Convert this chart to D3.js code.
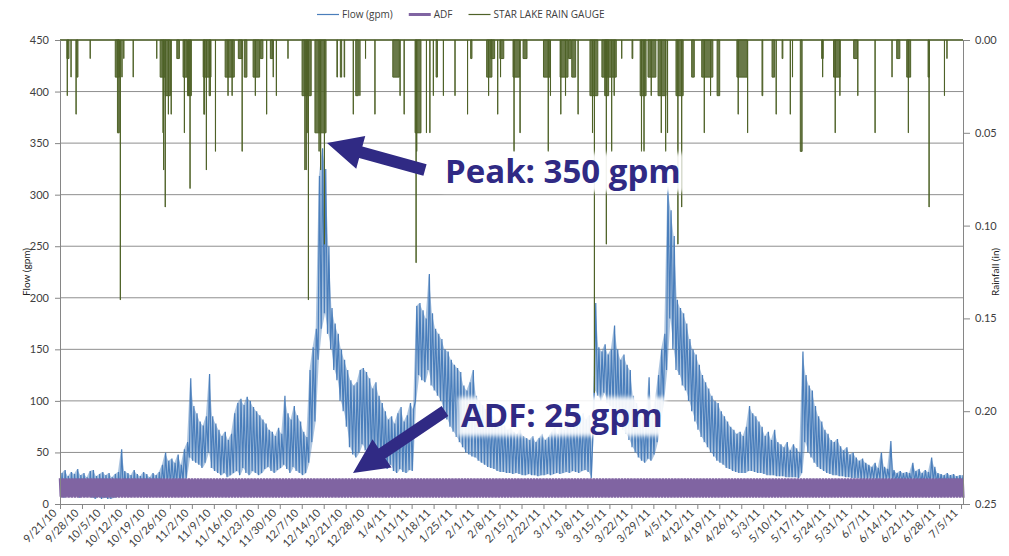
<!DOCTYPE html>
<meta charset="utf-8">
<script src="https://cdn.jsdelivr.net/npm/d3@7"></script>
<style>
  body { margin: 0; background: #fff; }
  text { font-family: Lato, "Open Sans", sans-serif; }
</style>
<body>
<div id="vis"></div>
<script>
// x axis tick labels (weekly)
const dateTicks = ["9/21/10","9/28/10","10/5/10","10/12/10","10/19/10","10/26/10","11/2/10","11/9/10",
  "11/16/10","11/23/10","11/30/10","12/7/10","12/14/10","12/21/10","12/28/10","1/4/11","1/11/11",
  "1/18/11","1/25/11","2/1/11","2/8/11","2/15/11","2/22/11","3/1/11","3/8/11","3/15/11","3/22/11",
  "3/29/11","4/5/11","4/12/11","4/19/11","4/26/11","5/3/11","5/10/11","5/17/11","5/24/11","5/31/11",
  "6/7/11","6/14/11","6/21/11","6/28/11","7/5/11"]
const flowTicks = [0, 50, 100, 150, 200, 250, 300, 350, 400, 450]
const rainTicks = [0, 0.05, 0.10, 0.15, 0.20, 0.25]

// flow (gpm): daily high and daily low, one value per day starting 9/21/10
const flowHi = [
  30, 33, 27, 31, 29, 34, 28, 30, 26, 32,
  33, 27, 29, 31, 28, 30, 26, 29, 31, 53,
  32, 30, 28, 33, 29, 27, 31, 29, 26, 30,
  28, 31, 38, 50, 42, 44, 40, 48, 38, 53,
  60, 122, 95, 88, 80, 76, 85, 126, 85, 78,
  72, 66, 70, 62, 68, 88, 98, 102, 96, 104,
  100, 94, 90, 86, 82, 78, 72, 70, 66, 74,
  68, 105, 88, 82, 95, 86, 80, 70, 65, 130,
  152, 170, 318, 345, 325, 250, 190, 175, 165, 150,
  140, 130, 120, 115, 118, 130, 132, 128, 122, 112,
  118, 105, 98, 90, 82, 85, 78, 88, 94, 80,
  86, 98, 92, 192, 195, 188, 180, 223, 185, 170,
  165, 160, 150, 148, 140, 135, 132, 128, 115, 110,
  118, 130, 105, 100, 96, 92, 88, 85, 82, 80,
  78, 76, 72, 74, 70, 68, 72, 66, 64, 62,
  66, 60, 64, 68, 62, 65, 70, 74, 68, 78,
  72, 82, 76, 80, 85, 78, 88, 82, 86, 60,
  195, 152, 148, 155, 145, 150, 173, 150, 140, 145,
  135, 130, 105, 98, 92, 85, 80, 123, 88, 100,
  125, 150, 165, 308, 285, 260, 198, 190, 185, 175,
  160, 150, 145, 135, 125, 118, 112, 105, 100, 98,
  90, 85, 80, 75, 72, 68, 70, 66, 75, 95,
  88, 85, 80, 75, 66, 70, 62, 72, 60, 58,
  55, 60, 52, 58, 54, 50, 148, 125, 115, 110,
  95, 85, 80, 72, 68, 62, 60, 63, 56, 52,
  55, 48, 50, 45, 42, 44, 40, 38, 36, 40,
  35, 50, 36, 34, 61, 33, 30, 32, 30, 31,
  30, 40, 32, 34, 30, 33, 31, 45, 36, 30,
  29, 28, 30, 28, 29, 27, 28, 28]
const flowLo = [
  8, 6, 9, 7, 10, 8, 6, 9, 7, 8,
  6, 5, 7, 5, 6, 5, 5, 6, 7, 10,
  8, 9, 7, 8, 10, 9, 8, 7, 9, 10,
  11, 12, 15, 18, 16, 18, 17, 20, 18, 22,
  25, 45, 42, 40, 38, 35, 40, 50, 35, 32,
  30, 28, 30, 26, 28, 30, 32, 28, 35, 30,
  28, 32, 30, 28, 30, 34, 36, 32, 30, 33,
  35, 38, 34, 30, 36, 32, 30, 28, 30, 40,
  60, 80, 140, 170, 185, 165, 150, 130, 120, 100,
  90, 75, 55, 48, 45, 50, 58, 52, 48, 42,
  45, 40, 38, 36, 34, 38, 32, 30, 34, 31,
  30, 33, 32, 100, 125, 120, 118, 130, 115, 110,
  105, 100, 90, 82, 75, 70, 65, 60, 55, 50,
  48, 46, 45, 42, 40, 38, 36, 35, 34, 32,
  31, 31, 30, 30, 29, 30, 29, 28, 28, 29,
  28, 28, 27, 28, 28, 29, 28, 29, 30, 29,
  30, 31, 30, 32, 31, 30, 32, 33, 31, 25,
  110, 105, 100, 108, 98, 95, 92, 85, 78, 72,
  68, 62, 55, 50, 45, 42, 40, 44, 42, 48,
  60, 80, 100, 130, 180, 150, 130, 125, 115, 110,
  100, 90, 80, 72, 65, 60, 55, 50, 46, 42,
  40, 38, 35, 34, 32, 31, 30, 30, 30, 32,
  32, 31, 30, 30, 29, 28, 28, 28, 27, 27,
  27, 26, 26, 26, 26, 25, 30, 60, 50, 45,
  40, 36, 34, 32, 30, 29, 28, 28, 27, 27,
  26, 26, 25, 25, 25, 24, 24, 24, 24, 24,
  23, 24, 23, 23, 24, 22, 22, 22, 21, 21,
  21, 21, 21, 20, 20, 20, 20, 20, 20, 20,
  20, 19, 19, 19, 18, 18, 18, 18]

// ADF (gpm): diurnal pattern, 6-hour steps, repeated every day
const adfPattern = [25, 7, 24, 6]

// rain gauge (in): start day offset, depth, duration in hours
const rainDay = [2.2, 2.3, 3.5, 5.1, 5.3, 9.6, 17.6, 18.3, 19.2, 19.7, 20.3, 23.3, 30.8, 31.9, 32.8, 33.0,
  33.5, 33.5, 34.5, 35.4, 37.2, 39.2, 39.6, 40.6, 41.0, 41.4, 45.6, 45.8, 46.6, 47.5, 49.5, 52.6,
  53.5, 54.8, 56.8, 58.0, 58.7, 61.5, 62.2, 63.8, 65.8, 67.0, 67.9, 68.9, 72.6, 77.1, 78.0, 78.4,
  78.6, 79.1, 81.2, 82.5, 83.0, 84.2, 88.2, 89.3, 90.5, 93.4, 94.2, 95.5, 97.3, 100.3, 106.0, 108.3,
  109.6, 113.1, 113.4, 113.6, 116.7, 117.8, 118.9, 119.8, 122.1, 125.8, 129.8, 130.8, 135.9, 136.5,
  137.2, 139.4, 140.1, 140.3, 144.3, 144.6, 146.5, 147.5, 154.0, 155.5, 156.2, 159.3, 159.5, 161.0,
  162.0, 163.0, 165.0, 168.8, 169.6, 170.2, 172.6, 173.5, 174.0, 175.7, 176.5, 178.9, 182.2, 184.8,
  185.2, 186.0, 187.3, 188.3, 190.5, 191.5, 192.9, 193.5, 196.2, 196.8, 198.0, 201.2, 204.4, 205.2,
  207.2, 209.3, 215.6, 216.0, 219.0, 223.6, 226.8, 228.1, 230.0, 232.6, 233.3, 235.8, 242.6, 242.9,
  246.4, 246.9, 248.4, 252.8, 254.1, 259.6, 265.0, 266.5, 269.7, 270.2, 276.5, 276.8, 281.7, 282.5]
const rainIn = [.01, .03, .02, .04, .02, .01, .02, .05, .14, .02, .01, .02, .01, .02, .05, .07,
  .09, .03, .04, .04, .01, .02, .05, .03, .03, .08, .02, .04, .07, .03, .06, .02,
  .03, .03, .01, .06, .02, .02, .03, .01, .04, .01, .02, .03, .01, .03, .07, .07,
  .05, .14, .05, .06, .07, .11, .02, .02, .02, .04, .03, .03, .01, .04, .02, .03,
  .04, .05, .12, .06, .05, .05, .03, .02, .03, .03, .04, .01, .02, .03,
  .01, .04, .01, .02, .02, .06, .05, .01, .02, .06, .03, .02, .04, .03,
  .01, .02, .04, .03, .05, .19, .02, .03, .11, .06, .03, .01, .01, .03,
  .06, .06, .02, .03, .03, .05, .06, .05, .03, .11, .09, .02, .02, .05,
  .03, .03, .02, .04, .05, .03, .02, .04, .01, .04, .02, .06, .01, .02,
  .02, .05, .03, .01, .03, .05, .02, .01, .02, .05, .02, .09, .03, .01]
const rainHrs = [16, 1, 1, 1, 10, 1, 32, 14, 1, 2, 1, 1, 1, 40, 2, 1,
  1, 40, 1, 1, 20, 30, 1, 30, 1, 1, 60, 6, 1, 10, 1, 70,
  1, 1, 30, 1, 20, 50, 1, 20, 1, 20, 1, 1, 1, 70, 1, 1,
  4, 1, 85, 1, 1, 1, 4, 10, 4, 1, 20, 1, 1, 1, 50, 1,
  1, 45, 1, 1, 1, 1, 1, 10, 1, 1, 1, 10, 40, 1,
  30, 1, 30, 1, 50, 1, 2, 30, 50, 1, 1, 60, 1, 1,
  20, 30, 1, 60, 1, 1, 110, 30, 1, 1, 1, 1, 6, 45,
  1, 1, 60, 1, 60, 1, 1, 1, 55, 1, 1, 20, 85, 1,
  1, 20, 80, 1, 1, 6, 20, 1, 6, 1, 1, 14, 12, 1,
  50, 1, 1, 30, 1, 1, 1, 24, 30, 1, 10, 1, 1, 1]

const W = 1009, H = 556
const margin = {top: 40, right: 46, bottom: 52, left: 60}
const plotR = W - margin.right, plotB = H - margin.bottom

const parse = d3.utcParse("%m/%d/%y")
const start = parse(dateTicks[0])
const tickDates = dateTicks.map(parse)
const end = d3.utcHour.offset(tickDates[tickDates.length - 1], 15)
const dayDate = d => new Date(+start + d * 864e5)

const x = d3.scaleUtc().domain([start, end]).range([margin.left, plotR])
const y = d3.scaleLinear().domain([0, 450]).range([plotB, margin.top])
const yR = d3.scaleLinear().domain([0, 0.25]).range([margin.top, plotB])

const svg = d3.select("#vis").append("svg").attr("width", W).attr("height", H)

// gridlines
svg.append("g").selectAll("line")
  .data(flowTicks.slice(1))
  .join("line")
  .attr("x1", margin.left).attr("x2", plotR)
  .attr("y1", d => y(d)).attr("y2", d => y(d))
  .attr("stroke", "#8f8f8f").attr("stroke-width", 1)

// flow series: daily band plus low/high trace
const band = d3.area()
  .x((d, i) => x(dayDate(i + 0.45)))
  .y0((d, i) => y(flowLo[i]))
  .y1(d => y(d))
svg.append("path").datum(flowHi)
  .attr("d", band).attr("fill", "#4a7ebb").attr("fill-opacity", 0.45)

const flowPts = []
flowHi.forEach((h, i) => {
  flowPts.push([i + 0.2, flowLo[i]])
  flowPts.push([i + 0.65, h])
})
const line = d3.line().x(d => x(dayDate(d[0]))).y(d => y(d[1]))
svg.append("path").datum(flowPts)
  .attr("d", line).attr("fill", "none")
  .attr("stroke", "#4a7ebb").attr("stroke-width", 1.2)

// ADF series
const adfPts = []
for (let d = 0; d < flowHi.length; d++) {
  adfPattern.forEach((v, k) => adfPts.push([d + k / adfPattern.length, v]))
}
svg.append("path").datum(adfPts)
  .attr("d", line).attr("fill", "none")
  .attr("stroke", "#8064a2").attr("stroke-width", 2.5)

// rain gauge on reversed secondary axis
const rainG = svg.append("g")
rainG.append("line")
  .attr("x1", x(start)).attr("x2", x(end))
  .attr("y1", yR(0)).attr("y2", yR(0))
  .attr("stroke", "#4f6228").attr("stroke-width", 1.5)
const rain = rainDay.map((d, i) => ({d, v: rainIn[i], h: rainHrs[i]}))
rainG.selectAll("path")
  .data(rain)
  .join("path")
  .attr("d", r => {
    const x0 = x(dayDate(r.d)), x1 = x(dayDate(r.d + r.h / 24))
    return `M${x0},${yR(0)}L${x0},${yR(r.v)}L${x1},${yR(r.v)}L${x1},${yR(0)}Z`
  })
  .attr("fill", "#4f6228").attr("fill-opacity", 0.85)
  .attr("stroke", "#4f6228").attr("stroke-width", 1)

// axes
const axisStyle = g => {
  g.select(".domain").attr("stroke", "#868686")
  g.selectAll(".tick line").attr("stroke", "#868686")
  g.selectAll("text").attr("fill", "#404040").style("font-size", "11px")
    .style("font-family", "Lato, sans-serif")
}
svg.append("g").attr("transform", `translate(${margin.left},0)`)
  .call(d3.axisLeft(y).tickValues(flowTicks).tickSize(5).tickPadding(6).tickSizeOuter(0))
  .call(axisStyle)
svg.append("g").attr("transform", `translate(${plotR},0)`)
  .call(d3.axisRight(yR).tickValues(rainTicks).tickFormat(d3.format(".2f")).tickSize(7).tickPadding(5).tickSizeOuter(0))
  .call(axisStyle)
const xAxis = svg.append("g").attr("transform", `translate(0,${plotB})`)
  .call(d3.axisBottom(x).tickValues(tickDates).tickFormat(d3.utcFormat("%-m/%-d/%y")).tickSize(5).tickSizeOuter(0))
  .call(axisStyle)
xAxis.selectAll("text")
  .attr("x", -9).attr("y", 1).attr("dy", "0.35em")
  .attr("transform", "rotate(-45)")
  .style("text-anchor", "end")

// axis titles
svg.append("text").attr("transform", `translate(26,${(margin.top + plotB) / 2}) rotate(-90)`)
  .attr("text-anchor", "middle").attr("dy", "0.35em")
  .style("font-size", "10px").attr("fill", "#222").text("Flow (gpm)")
svg.append("text").attr("transform", `translate(995,${(margin.top + plotB) / 2}) rotate(-90)`)
  .attr("text-anchor", "middle").attr("dy", "0.35em")
  .style("font-size", "10px").attr("fill", "#222").text("Rainfall (in)")

// legend
const legendItems = [
  {name: "Flow (gpm)", color: "#4a7ebb", w: 1.2},
  {name: "ADF", color: "#8064a2", w: 3},
  {name: "STAR LAKE RAIN GAUGE", color: "#4f6228", w: 1.2}
]
let lx = 317
legendItems.forEach(it => {
  svg.append("line").attr("x1", lx).attr("x2", lx + 22).attr("y1", 14.5).attr("y2", 14.5)
    .attr("stroke", it.color).attr("stroke-width", it.w)
  const t = svg.append("text").attr("x", lx + 25).attr("y", 18)
    .style("font-size", "10px").style("font-family", "'Open Sans', sans-serif")
    .attr("fill", "#404040").text(it.name)
  lx += 25 + t.node().getComputedTextLength() + 16
})

// annotations
const defs = svg.append("defs")
defs.append("filter").attr("id", "soft").attr("x", "-10%").attr("y", "-30%").attr("width", "120%").attr("height", "160%")
  .append("feGaussianBlur").attr("stdDeviation", 2)

function arrowPath(tip, tail, shaftW, headL, headW) {
  const dx = tail[0] - tip[0], dy = tail[1] - tip[1], len = Math.hypot(dx, dy)
  const ux = dx / len, uy = dy / len, px = -uy, py = ux
  const b = [tip[0] + ux * headL, tip[1] + uy * headL]
  const pts = [tip,
    [b[0] + px * headW / 2, b[1] + py * headW / 2],
    [b[0] + px * shaftW / 2, b[1] + py * shaftW / 2],
    [tail[0] + px * shaftW / 2, tail[1] + py * shaftW / 2],
    [tail[0] - px * shaftW / 2, tail[1] - py * shaftW / 2],
    [b[0] - px * shaftW / 2, b[1] - py * shaftW / 2],
    [b[0] - px * headW / 2, b[1] - py * headW / 2]]
  return "M" + pts.join("L") + "Z"
}

const navy = "#302a84"
const notes = [
  {text: "Peak: 350 gpm", x: 445, y: 183, tip: [327, 143], tail: [425, 170]},
  {text: "ADF: 25 gpm", x: 461, y: 427, tip: [353, 473], tail: [445, 411]}
]
notes.forEach(n => {
  const g = svg.append("g")
  const bg = g.append("rect")
  const t = g.append("text").attr("x", n.x).attr("y", n.y)
    .style("font-family", "'Open Sans', sans-serif").style("font-weight", 700)
    .style("font-size", "33px").attr("fill", navy).text(n.text)
  const bb = t.node().getBBox()
  bg.attr("x", bb.x - 3).attr("y", bb.y + 5).attr("width", bb.width + 6).attr("height", bb.height - 6)
    .attr("fill", "#fff").attr("opacity", 0.92).attr("filter", "url(#soft)")
  svg.append("path").attr("d", arrowPath(n.tip, n.tail, 12, 35, 34)).attr("fill", navy)
})
</script>
</body>
